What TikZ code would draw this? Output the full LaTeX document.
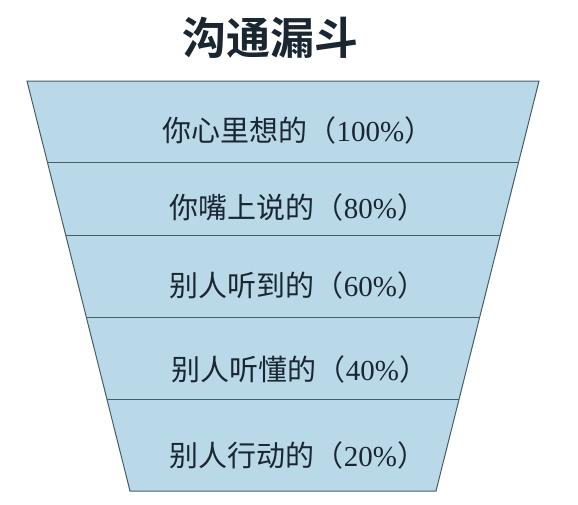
\documentclass[tikz,border=0pt]{standalone}
\usepackage{fontspec}
\setmainfont{Liberation Serif}
\newfontfamily\cjk{Noto Sans CJK SC}[BoldFont={Noto Sans CJK SC Bold}]
\usetikzlibrary{calc}
\definecolor{funnelblue}{RGB}{185,217,232}
\definecolor{funnelline}{RGB}{72,92,104}
\definecolor{inkblue}{RGB}{26,38,50}
\tikzset{
  funnel/.style={
    fill=funnelblue,
    draw=funnelline,
    line width=1pt,
    line join=miter
  },
  divider/.style={draw=funnelline, line width=1pt},
  stage/.style={text=inkblue, inner sep=0pt, font=\fontsize{29}{32}\selectfont},
  heading/.style={text=inkblue, inner sep=0pt, font=\cjk\bfseries\fontsize{44}{48}\selectfont}
}
\newcommand{\stagetext}[2]{{\cjk #1（}#2\%{\cjk ）}}

\begin{document}
\begin{tikzpicture}[x=1pt,y=-1pt]
  \useasboundingbox (0,0) rectangle (578,504);
  % Corners
  \coordinate (TL) at (27,81);
  \coordinate (TR) at (539,81);
  \coordinate (BR) at (436,491);
  \coordinate (BL) at (130,491);
  % Funnel body
  \draw[funnel] (TL) -- (TR) -- (BR) -- (BL) -- cycle;
  % Band dividers
  \foreach \t in {0.198,0.378,0.578,0.776}
    \draw[divider] ($(TL)!\t!(BL)$) -- ($(TR)!\t!(BR)$);
  % Title
  \node[heading] (title) at (270,38) {沟通漏斗};
  % Stages
  \node[stage] (think) at (298,130) {\stagetext{你心里想的}{100}};
  \node[stage] (say) at (298,207) {\stagetext{你嘴上说的}{80}};
  \node[stage] (hear) at (298,285) {\stagetext{别人听到的}{60}};
  \node[stage] (grasp) at (300,369) {\stagetext{别人听懂的}{40}};
  \node[stage] (act) at (298,455) {\stagetext{别人行动的}{20}};
\end{tikzpicture}
\end{document}
